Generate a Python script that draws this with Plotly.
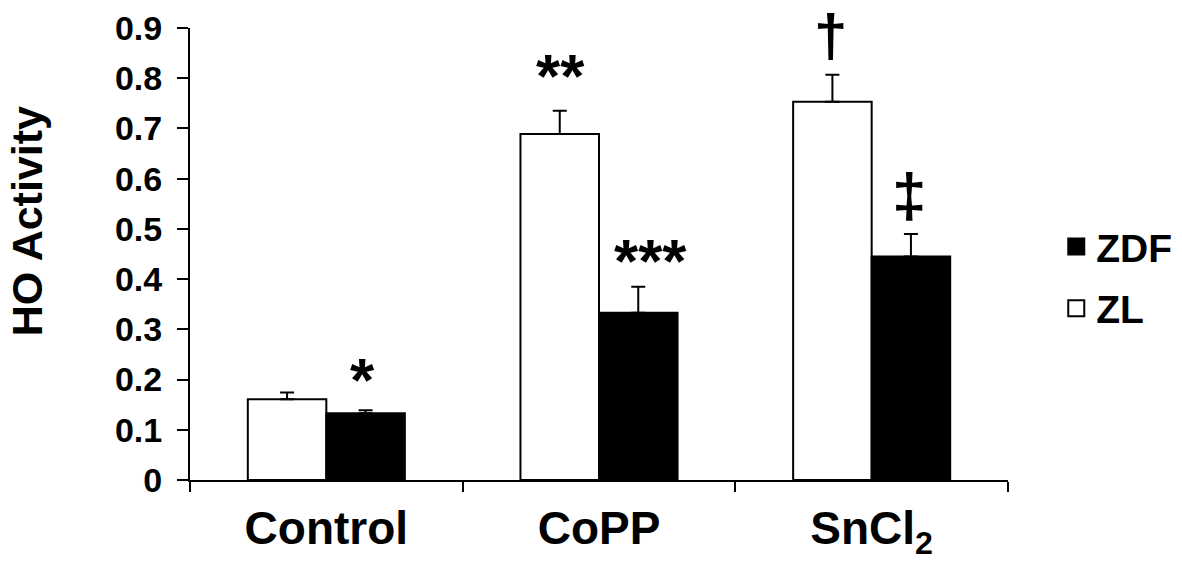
import plotly.graph_objects as go

categories = ["Control", "CoPP", "SnCl<sub>2</sub>"]
zl_values = [0.161, 0.689, 0.753]
zl_errors = [0.013, 0.046, 0.054]
zdf_values = [0.133, 0.333, 0.445]
zdf_errors = [0.006, 0.052, 0.045]
y_ticks = [0, 0.1, 0.2, 0.3, 0.4, 0.5, 0.6, 0.7, 0.8, 0.9]
y_ticktext = ["0", "0.1", "0.2", "0.3", "0.4", "0.5", "0.6", "0.7", "0.8", "0.9"]

# significance marks: (category index, series, text, y value, extra x shift, size)
marks = [
    (0, "ZDF", "*", 0.200, -3, 62),
    (1, "ZL", "**", 0.805, 0, 62),
    (1, "ZDF", "***", 0.437, 12, 62),
    (2, "ZL", "†", 0.885, -2, 60),
    (2, "ZDF", "‡", 0.568, -2, 62),
]

FONT = "Liberation Sans, Arial, sans-serif"

fig = go.Figure()
fig.add_trace(go.Bar(
    x=categories, y=zl_values, name="ZL", showlegend=False,
    marker=dict(color="white", line=dict(color="black", width=2)),
    error_y=dict(type="data", symmetric=False, array=zl_errors,
                 arrayminus=[0] * len(zl_errors), color="black", thickness=2, width=7),
))
fig.add_trace(go.Bar(
    x=categories, y=zdf_values, name="ZDF", showlegend=False,
    marker=dict(color="black", line=dict(color="black", width=2)),
    error_y=dict(type="data", symmetric=False, array=zdf_errors,
                 arrayminus=[0] * len(zdf_errors), color="black", thickness=2, width=7),
))
# legend entries
fig.add_trace(go.Scatter(
    x=[None], y=[None], mode="markers", name="ZDF", legendgroup="a",
    marker=dict(symbol="square", size=18, color="black", line=dict(color="black", width=2)),
))
fig.add_trace(go.Scatter(
    x=[None], y=[None], mode="markers", name="ZL", legendgroup="b",
    marker=dict(symbol="square", size=18, color="white", line=dict(color="black", width=2)),
))

for ci, series, txt, yv, dx, sz in marks:
    fig.add_annotation(
        x=categories[ci], y=yv, xref="x", yref="y", text=txt, showarrow=False,
        xshift=(-39 if series == "ZL" else 39) + dx, yanchor="middle",
        font=dict(family=FONT, size=sz, color="black", weight="bold"),
    )

fig.add_annotation(
    x=-0.199, y=0.573, xref="paper", yref="paper", text="HO Activity",
    textangle=-90, showarrow=False, xanchor="center", yanchor="middle",
    font=dict(family=FONT, size=43, color="black", weight="bold"),
)

fig.update_layout(
    width=1182, height=563,
    margin=dict(l=190, r=174, t=28, b=83, autoexpand=False),
    paper_bgcolor="white", plot_bgcolor="white",
    barmode="group", bargap=0.424, bargroupgap=0,
    font=dict(family=FONT, color="black"),
    legend=dict(x=1.059, y=0.587, xanchor="left", yanchor="top",
                font=dict(family=FONT, size=39, weight="bold"),
                tracegroupgap=8, itemwidth=30),
    xaxis=dict(
        type="category", showline=True, linecolor="black", linewidth=2,
        ticks="outside", tickson="boundaries", ticklen=10, tickwidth=2, tickcolor="black",
        tickfont=dict(family=FONT, size=46, weight="bold"), ticklabelstandoff=7,
        showgrid=False, zeroline=False,
    ),
    yaxis=dict(
        range=[0, 0.9], showline=True, linecolor="black", linewidth=2,
        ticks="outside", ticklen=11, tickwidth=2, tickcolor="black",
        tickvals=y_ticks, ticktext=y_ticktext,
        tickfont=dict(family=FONT, size=34, weight="bold"), ticklabelstandoff=8,
        showgrid=False, zeroline=False,
    ),
)

fig.write_html("out.html")
